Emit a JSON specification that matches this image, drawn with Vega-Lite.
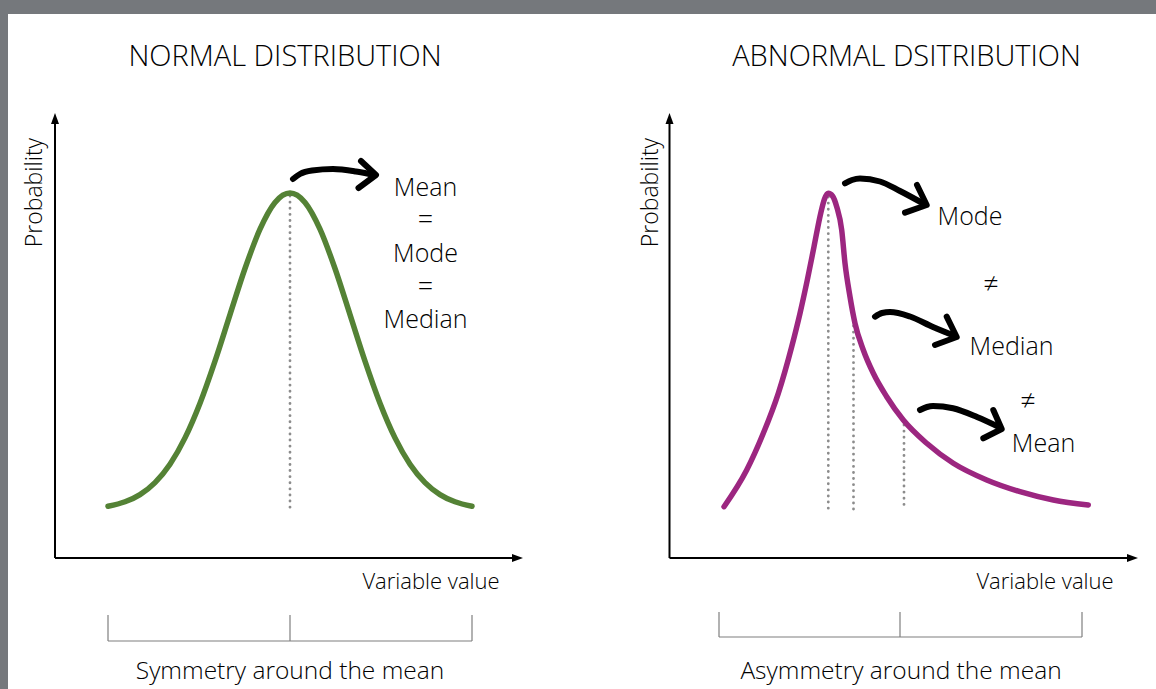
{
  "$schema": "https://vega.github.io/schema/vega-lite/v6.json",
  "width": 1156,
  "height": 689,
  "autosize": {"type": "fit", "contains": "padding"},
  "padding": 0,
  "background": "white",
  "config": {"view": {"stroke": null}, "font": "Open Sans"},
  "datasets": {
    "border": [
      {"x": 0, "x2": 1156, "y": 0, "y2": 14},
      {"x": 0, "x2": 8, "y": 0, "y2": 689}
    ],
    "axes": [
      {"x": 55, "x2": 55, "y": 558, "y2": 120},
      {"x": 55, "x2": 516, "y": 558, "y2": 558},
      {"x": 669.5, "x2": 669.5, "y": 558, "y2": 120},
      {"x": 669.5, "x2": 1131, "y": 558, "y2": 558}
    ],
    "upTips": [{"x": 55, "y": 113}, {"x": 669.5, "y": 113}],
    "rightTips": [{"x": 523, "y": 558}, {"x": 1138, "y": 558}],
    "normal": [
      {"x": 108, "y": 506.3}, {"x": 125, "y": 501.8}, {"x": 140, "y": 494.6}, {"x": 155, "y": 482.6},
      {"x": 170, "y": 464.2}, {"x": 185, "y": 437.9}, {"x": 200, "y": 403.2}, {"x": 215, "y": 361.1},
      {"x": 230, "y": 314.6}, {"x": 245, "y": 268.5}, {"x": 260, "y": 229.1}, {"x": 275, "y": 202.4},
      {"x": 290, "y": 193}, {"x": 305, "y": 202.4}, {"x": 320, "y": 229.1}, {"x": 335, "y": 268.5},
      {"x": 350, "y": 314.6}, {"x": 365, "y": 361.1}, {"x": 380, "y": 403.2}, {"x": 395, "y": 437.9},
      {"x": 410, "y": 464.2}, {"x": 425, "y": 482.6}, {"x": 440, "y": 494.6}, {"x": 455, "y": 501.8},
      {"x": 472, "y": 506.3}
    ],
    "skewed": [
      {"x": 724, "y": 506.7}, {"x": 746.7, "y": 470}, {"x": 763.3, "y": 433.3}, {"x": 778.3, "y": 393.3},
      {"x": 791.7, "y": 346.7}, {"x": 800, "y": 313.3}, {"x": 807.3, "y": 280}, {"x": 814, "y": 246.7},
      {"x": 820.7, "y": 213.3}, {"x": 824.5, "y": 199}, {"x": 828.3, "y": 193.3}, {"x": 832.5, "y": 196},
      {"x": 836.7, "y": 206.7}, {"x": 841.7, "y": 230}, {"x": 845, "y": 263.3}, {"x": 850, "y": 296.7},
      {"x": 855, "y": 323.3}, {"x": 863.3, "y": 350}, {"x": 873.3, "y": 373.3}, {"x": 886.7, "y": 396.7},
      {"x": 903.3, "y": 420}, {"x": 926.7, "y": 443.3}, {"x": 953.3, "y": 463.3}, {"x": 986.7, "y": 480},
      {"x": 1020, "y": 491.7}, {"x": 1053.3, "y": 500}, {"x": 1088.3, "y": 505}
    ],
    "dotted": [
      {"x": 290, "y": 196, "y2": 510},
      {"x": 828.3, "y": 197, "y2": 510},
      {"x": 853.5, "y": 326, "y2": 510},
      {"x": 904, "y": 425, "y2": 510}
    ],
    "shafts": [
      {"id": "a", "x": 293, "y": 179}, {"id": "a", "x": 300, "y": 174}, {"id": "a", "x": 312, "y": 170.5},
      {"id": "a", "x": 333, "y": 169}, {"id": "a", "x": 356, "y": 171.5}, {"id": "a", "x": 374, "y": 175},
      {"id": "b", "x": 845, "y": 183.3}, {"id": "b", "x": 852, "y": 180}, {"id": "b", "x": 860, "y": 178.5},
      {"id": "b", "x": 880, "y": 181.5}, {"id": "b", "x": 900, "y": 191}, {"id": "b", "x": 925, "y": 204.5},
      {"id": "c", "x": 875, "y": 316.7}, {"id": "c", "x": 882, "y": 313}, {"id": "c", "x": 890, "y": 312},
      {"id": "c", "x": 910, "y": 316.5}, {"id": "c", "x": 933, "y": 327}, {"id": "c", "x": 955, "y": 336},
      {"id": "d", "x": 920, "y": 410}, {"id": "d", "x": 927, "y": 407}, {"id": "d", "x": 933, "y": 406},
      {"id": "d", "x": 953, "y": 408.3}, {"id": "d", "x": 977, "y": 417}, {"id": "d", "x": 1000, "y": 427.5}
    ],
    "heads": [
      {"id": "a", "o": 1, "x": 361, "y": 161}, {"id": "a", "o": 2, "x": 376, "y": 175}, {"id": "a", "o": 3, "x": 358.5, "y": 188},
      {"id": "b", "o": 1, "x": 917, "y": 185}, {"id": "b", "o": 2, "x": 926.7, "y": 205}, {"id": "b", "o": 3, "x": 905, "y": 212.7},
      {"id": "c", "o": 1, "x": 946.7, "y": 316.7}, {"id": "c", "o": 2, "x": 956.7, "y": 337}, {"id": "c", "o": 3, "x": 935, "y": 345},
      {"id": "d", "o": 1, "x": 993.3, "y": 410}, {"id": "d", "o": 2, "x": 1001.7, "y": 429}, {"id": "d", "o": 3, "x": 983.3, "y": 438.3}
    ],
    "brackets": [
      {"x": 108, "x2": 472, "y": 641, "y2": 641},
      {"x": 108, "x2": 108, "y": 615, "y2": 641},
      {"x": 290, "x2": 290, "y": 615, "y2": 641},
      {"x": 472, "x2": 472, "y": 615, "y2": 641},
      {"x": 719, "x2": 1082, "y": 637, "y2": 637},
      {"x": 719, "x2": 719, "y": 612, "y2": 637},
      {"x": 900, "x2": 900, "y": 612, "y2": 637},
      {"x": 1082, "x2": 1082, "y": 612, "y2": 637}
    ],
    "titles": [
      {"x": 285, "y": 56.5, "text": "NORMAL DISTRIBUTION"},
      {"x": 906.5, "y": 56.5, "text": "ABNORMAL DSITRIBUTION"}
    ],
    "labels": [
      {"x": 425.5, "y": 188, "text": "Mean"},
      {"x": 425.5, "y": 253.5, "text": "Mode"},
      {"x": 425.5, "y": 320, "text": "Median"},
      {"x": 970, "y": 216.5, "text": "Mode"},
      {"x": 1011.5, "y": 346.5, "text": "Median"},
      {"x": 1043.5, "y": 443.5, "text": "Mean"}
    ],
    "symbols": [
      {"x": 425.5, "y": 221, "text": "="},
      {"x": 425.5, "y": 288, "text": "="},
      {"x": 991, "y": 285, "text": "≠"},
      {"x": 1028, "y": 401.5, "text": "≠"}
    ],
    "xtitles": [
      {"x": 431, "y": 582, "text": "Variable value"},
      {"x": 1045, "y": 582, "text": "Variable value"}
    ],
    "ytitles": [
      {"x": 35, "y": 192.5, "text": "Probability"},
      {"x": 651, "y": 192.5, "text": "Probability"}
    ],
    "captions": [
      {"x": 290, "y": 671.5, "text": "Symmetry around the mean"},
      {"x": 901, "y": 671.5, "text": "Asymmetry around the mean"}
    ]
  },
  "encoding": {
    "x": {"field": "x", "type": "quantitative", "scale": {"domain": [0, 1156], "nice": false, "zero": false}, "axis": null},
    "y": {"field": "y", "type": "quantitative", "scale": {"domain": [0, 689], "nice": false, "zero": false, "reverse": true}, "axis": null}
  },
  "layer": [
    {
      "data": {"name": "border"},
      "mark": {"type": "rect", "color": "#75787c"},
      "encoding": {"x2": {"field": "x2"}, "y2": {"field": "y2"}}
    },
    {
      "data": {"name": "brackets"},
      "mark": {"type": "rule", "color": "#7f7f7f", "strokeWidth": 1.2},
      "encoding": {"x2": {"field": "x2"}, "y2": {"field": "y2"}}
    },
    {
      "data": {"name": "axes"},
      "mark": {"type": "rule", "color": "#000000", "strokeWidth": 2},
      "encoding": {"x2": {"field": "x2"}, "y2": {"field": "y2"}}
    },
    {
      "data": {"name": "upTips"},
      "mark": {"type": "point", "shape": "M0,0L-0.4,1.1L0.4,1.1Z", "size": 400, "filled": true, "color": "#000000", "opacity": 1}
    },
    {
      "data": {"name": "rightTips"},
      "mark": {"type": "point", "shape": "M0,0L-1.1,-0.4L-1.1,0.4Z", "size": 400, "filled": true, "color": "#000000", "opacity": 1}
    },
    {
      "data": {"name": "dotted"},
      "mark": {"type": "rule", "color": "#8c8c8c", "strokeWidth": 2.8, "strokeDash": [0.1, 6], "strokeCap": "round"},
      "encoding": {"y2": {"field": "y2"}}
    },
    {
      "data": {"name": "normal"},
      "mark": {"type": "line", "interpolate": "monotone", "color": "#548235", "strokeWidth": 5.5, "strokeCap": "round"}
    },
    {
      "data": {"name": "skewed"},
      "mark": {"type": "line", "interpolate": "monotone", "color": "#9c2680", "strokeWidth": 5.5, "strokeCap": "round"}
    },
    {
      "data": {"name": "shafts"},
      "mark": {"type": "line", "interpolate": "monotone", "color": "#000000", "strokeWidth": 6, "strokeCap": "round"},
      "encoding": {"detail": {"field": "id"}}
    },
    {
      "data": {"name": "heads"},
      "mark": {"type": "line", "color": "#000000", "strokeWidth": 6, "strokeCap": "round", "strokeJoin": "round"},
      "encoding": {"detail": {"field": "id"}, "order": {"field": "o", "type": "quantitative"}}
    },
    {
      "data": {"name": "titles"},
      "mark": {"type": "text", "font": "Open Sans", "fontWeight": 350, "fontSize": 29, "align": "center", "baseline": "middle", "color": "#000000"},
      "encoding": {"text": {"field": "text"}}
    },
    {
      "data": {"name": "labels"},
      "mark": {"type": "text", "font": "Open Sans", "fontWeight": 350, "fontSize": 25, "align": "center", "baseline": "middle", "color": "#000000"},
      "encoding": {"text": {"field": "text"}}
    },
    {
      "data": {"name": "symbols"},
      "mark": {"type": "text", "font": "Open Sans", "fontWeight": 350, "fontSize": 27, "align": "center", "baseline": "middle", "color": "#000000"},
      "encoding": {"text": {"field": "text"}}
    },
    {
      "data": {"name": "xtitles"},
      "mark": {"type": "text", "font": "Open Sans", "fontWeight": 350, "fontSize": 22, "align": "center", "baseline": "middle", "color": "#000000"},
      "encoding": {"text": {"field": "text"}}
    },
    {
      "data": {"name": "ytitles"},
      "mark": {"type": "text", "font": "Open Sans", "fontWeight": 350, "fontSize": 23, "align": "center", "baseline": "middle", "angle": 270, "color": "#000000"},
      "encoding": {"text": {"field": "text"}}
    },
    {
      "data": {"name": "captions"},
      "mark": {"type": "text", "font": "Open Sans", "fontWeight": 350, "fontSize": 24.5, "align": "center", "baseline": "middle", "color": "#000000"},
      "encoding": {"text": {"field": "text"}}
    }
  ]
}
